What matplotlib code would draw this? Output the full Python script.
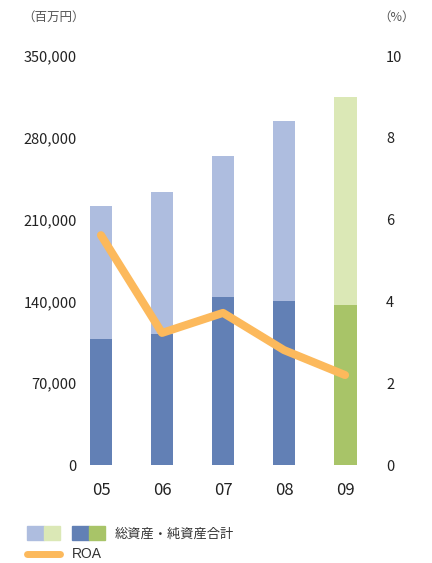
import matplotlib.pyplot as plt
from matplotlib.patches import Rectangle
from matplotlib.lines import Line2D

plt.rcParams['font.family'] = ['Noto Sans CJK JP', 'DejaVu Sans']

# Data (百万円, %)
years = ['05', '06', '07', '08', '09']
total_assets = [222000, 233500, 264500, 294500, 315000]
net_assets = [108000, 112000, 144000, 140500, 137000]
roa = [5.62, 3.23, 3.72, 2.81, 2.2]

light_blue = '#aebddf'
dark_blue = '#6280b5'
light_green = '#dbe8b6'
dark_green = '#a8c468'
orange = '#fcb95c'
text_c = '#222222'

fig = plt.figure(figsize=(4.32, 5.63), dpi=100)
ax = fig.add_axes([0.197, 0.174, 0.671, 0.7265])

x = range(len(years))
light_cols = [light_blue] * 4 + [light_green]
dark_cols = [dark_blue] * 4 + [dark_green]
ax.bar(x, total_assets, width=0.375, color=light_cols, zorder=2)
ax.bar(x, net_assets, width=0.375, color=dark_cols, zorder=3)

ax.set_ylim(0, 350000)
ax.set_xlim(-0.26, 4.49)
ax.set_yticks(range(0, 350001, 70000))
ax.set_yticklabels([f'{v:,}' for v in range(0, 350001, 70000)])
ax.set_xticks(list(x))
ax.set_xticklabels(years, fontsize=12, color=text_c)
ax.tick_params(axis='both', length=0, colors=text_c)
ax.tick_params(axis='y', labelsize=10.5, pad=6)
ax.tick_params(axis='x', pad=12)
for s in ax.spines.values():
    s.set_visible(False)

# ROA on the right axis
ax2 = ax.twinx()
ax2.plot(list(x), roa, color=orange, lw=5.8, solid_capstyle='round',
         solid_joinstyle='round', zorder=5)
ax2.set_ylim(0, 10)
ax2.set_yticks(range(0, 11, 2))
ax2.tick_params(axis='y', length=0, labelsize=10.5, colors=text_c, pad=8)
for s in ax2.spines.values():
    s.set_visible(False)

# unit labels
fig.text(22 / 432, 1 - 17 / 563, '（百万円）', fontsize=9, color='#555555',
         va='center', ha='left')
fig.text(378 / 432, 1 - 17 / 563, '（%）', fontsize=9, color='#555555',
         va='center', ha='left')

# legend
H, W = 563, 432
def sq(x0, color):
    fig.patches.append(Rectangle((x0 / W, 1 - 540 / H), 16.5 / W, 14 / H,
                                 transform=fig.transFigure, color=color))
sq(27, light_blue)
sq(43.5, light_green)
sq(72, dark_blue)
sq(88.5, dark_green)
fig.text(115 / W, 1 - 534 / H, '総資産・純資産合計', fontsize=9.5, color='#333333',
         va='center', ha='left')
fig.lines.append(Line2D([27 / W, 60 / W], [1 - 554 / H, 1 - 554 / H],
                        transform=fig.transFigure, color=orange, lw=5,
                        solid_capstyle='round'))
fig.text(72 / W, 1 - 554 / H, 'ROA', fontsize=10, color='#333333',
         family='Liberation Sans', va='center', ha='left')

fig.savefig('out.png', dpi=100)
